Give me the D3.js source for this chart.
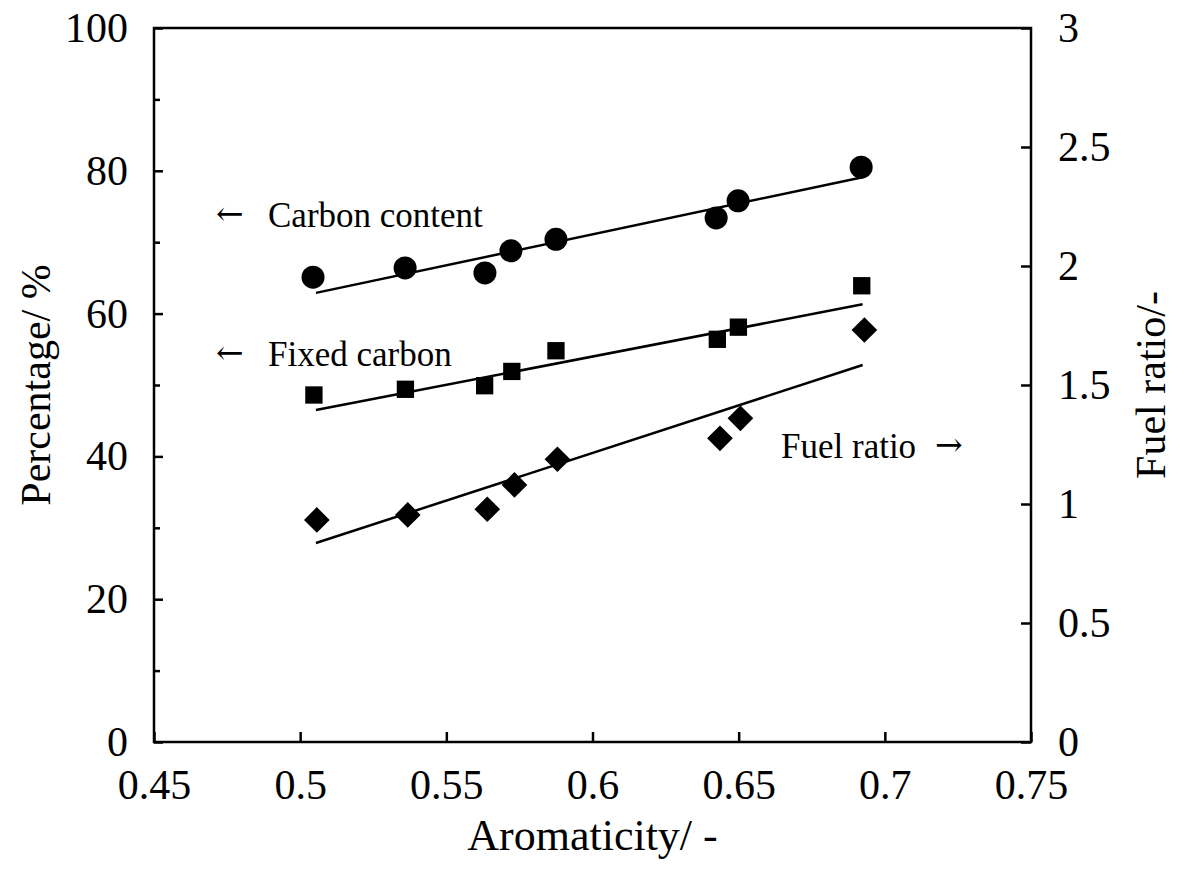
<!DOCTYPE html>
<html>
<head>
<meta charset="utf-8">
<script src="https://cdn.jsdelivr.net/npm/d3@7/dist/d3.min.js"></script>
<style>
  html, body { margin: 0; padding: 0; background: #fff; }
  svg { display: block; }
  text { font-family: "Liberation Serif", "Times New Roman", serif; fill: #000; }
  text.arrow { font-family: "DejaVu Serif", serif; }
</style>
</head>
<body>
<script>
// Aromaticity of each sample (shared x values)
const carbonX = [0.5044, 0.5359, 0.5632, 0.5721, 0.5875, 0.6423, 0.6498, 0.6919];
const carbonContent = [65.1, 66.4, 65.7, 68.8, 70.4, 73.4, 75.8, 80.5];

const fixedX = [0.5047, 0.5360, 0.5631, 0.5724, 0.5875, 0.6427, 0.6499, 0.6921];
const fixedCarbon = [48.6, 49.4, 49.9, 51.9, 54.8, 56.4, 58.1, 63.9];

const fuelX = [0.5057, 0.5368, 0.5640, 0.5733, 0.5880, 0.6436, 0.6506, 0.6930];
const fuelRatio = [0.933, 0.954, 0.978, 1.080, 1.188, 1.276, 1.360, 1.731];

// Linear trend lines (end points)
const trendX = [0.5054, 0.6924];
const carbonTrend = [62.9, 79.1];
const fixedTrend = [46.5, 61.3];
const fuelTrend = [0.836, 1.584];

// Axis ticks
const xTicks = [0.45, 0.5, 0.55, 0.6, 0.65, 0.7, 0.75];
const xTickLabels = ["0.45", "0.5", "0.55", "0.6", "0.65", "0.7", "0.75"];
const leftTicks = [0, 20, 40, 60, 80, 100];
const leftMinorTicks = [10, 30, 50, 70, 90];
const rightTicks = [0, 0.5, 1, 1.5, 2, 2.5, 3];
const rightTickLabels = ["0", "0.5", "1", "1.5", "2", "2.5", "3"];

const W = 1177, H = 879;
const m = { left: 154, top: 28, right: 1031, bottom: 742 };

const svg = d3.select("body").append("svg").attr("width", W).attr("height", H);
svg.append("rect").attr("width", W).attr("height", H).attr("fill", "#fff");

const x = d3.scaleLinear().domain([0.45, 0.75]).range([m.left, m.right]);
const yL = d3.scaleLinear().domain([0, 100]).range([m.bottom, m.top]);
const yR = d3.scaleLinear().domain([0, 3]).range([m.bottom, m.top]);

const tickFont = 42;

function styleAxis(g) {
  g.attr("font-family", null).attr("font-size", null);
  g.select(".domain").remove();
  g.selectAll(".tick line").attr("stroke", "#000").attr("stroke-width", 2.5);
  g.selectAll(".tick text").attr("font-size", tickFont);
}

// Bottom axis
svg.append("g").attr("transform", `translate(0,${m.bottom})`)
  .call(d3.axisBottom(x).tickValues(xTicks)
    .tickFormat((d, i) => xTickLabels[i]).tickSizeInner(-10).tickSizeOuter(0).tickPadding(27))
  .call(styleAxis);

// Left axis (major + minor ticks)
svg.append("g").attr("transform", `translate(${m.left},0)`)
  .call(d3.axisLeft(yL).tickValues(leftTicks).tickSizeInner(-9).tickSizeOuter(0).tickPadding(26))
  .call(styleAxis);
svg.append("g").attr("transform", `translate(${m.left},0)`)
  .call(d3.axisLeft(yL).tickValues(leftMinorTicks).tickFormat("").tickSizeInner(-6).tickSizeOuter(0))
  .call(styleAxis);

// Right axis
svg.append("g").attr("transform", `translate(${m.right},0)`)
  .call(d3.axisRight(yR).tickValues(rightTicks)
    .tickFormat((d, i) => rightTickLabels[i]).tickSizeInner(-10).tickSizeOuter(0).tickPadding(27))
  .call(styleAxis);

// Frame
svg.append("rect")
  .attr("x", m.left).attr("y", m.top)
  .attr("width", m.right - m.left).attr("height", m.bottom - m.top)
  .attr("fill", "none").attr("stroke", "#000").attr("stroke-width", 2.5);

// Trend lines
const lineL = d3.line().x(d => x(d[0])).y(d => yL(d[1]));
const lineR = d3.line().x(d => x(d[0])).y(d => yR(d[1]));
[carbonTrend, fixedTrend].forEach(t => {
  svg.append("path").datum(d3.zip(trendX, t)).attr("d", lineL)
    .attr("fill", "none").attr("stroke", "#000").attr("stroke-width", 2.5);
});
svg.append("path").datum(d3.zip(trendX, fuelTrend)).attr("d", lineR)
  .attr("fill", "none").attr("stroke", "#000").attr("stroke-width", 2.5);

// Markers
svg.append("g").selectAll("circle").data(d3.zip(carbonX, carbonContent)).join("circle")
  .attr("cx", d => x(d[0])).attr("cy", d => yL(d[1])).attr("r", 11.5).attr("fill", "#000");

const sq = d3.symbol().type(d3.symbolSquare).size(300);
svg.append("g").selectAll("path").data(d3.zip(fixedX, fixedCarbon)).join("path")
  .attr("d", sq).attr("transform", d => `translate(${x(d[0])},${yL(d[1])})`).attr("fill", "#000");

const dia = d3.symbol().type(d3.symbolSquare).size(330);
svg.append("g").selectAll("path").data(d3.zip(fuelX, fuelRatio)).join("path")
  .attr("d", dia).attr("transform", d => `translate(${x(d[0])},${yR(d[1])}) rotate(45)`).attr("fill", "#000");

// Axis titles
svg.append("text").attr("x", (m.left + m.right) / 2).attr("y", 850)
  .attr("text-anchor", "middle").attr("font-size", 44).text("Aromaticity/ -");
svg.append("text").attr("transform", `translate(50,${(m.top + m.bottom) / 2}) rotate(-90)`)
  .attr("text-anchor", "middle").attr("font-size", 42).text("Percentage/ %");
svg.append("text").attr("transform", `translate(1165,${(m.top + m.bottom) / 2}) rotate(-90)`)
  .attr("text-anchor", "middle").attr("font-size", 42).text("Fuel ratio/-");

// Series annotations
const annFont = 35;
const ann = svg.append("g").attr("font-size", annFont);
ann.append("text").attr("class", "arrow").attr("x", 216).attr("y", 225).attr("font-size", 33).text("←");
ann.append("text").attr("x", 268).attr("y", 227).text("Carbon content");
ann.append("text").attr("class", "arrow").attr("x", 216).attr("y", 364).attr("font-size", 33).text("←");
ann.append("text").attr("x", 268).attr("y", 366).text("Fixed carbon");
ann.append("text").attr("x", 781).attr("y", 458).text("Fuel ratio");
ann.append("text").attr("class", "arrow").attr("x", 935).attr("y", 456).attr("font-size", 33).text("→");
</script>
</body>
</html>
